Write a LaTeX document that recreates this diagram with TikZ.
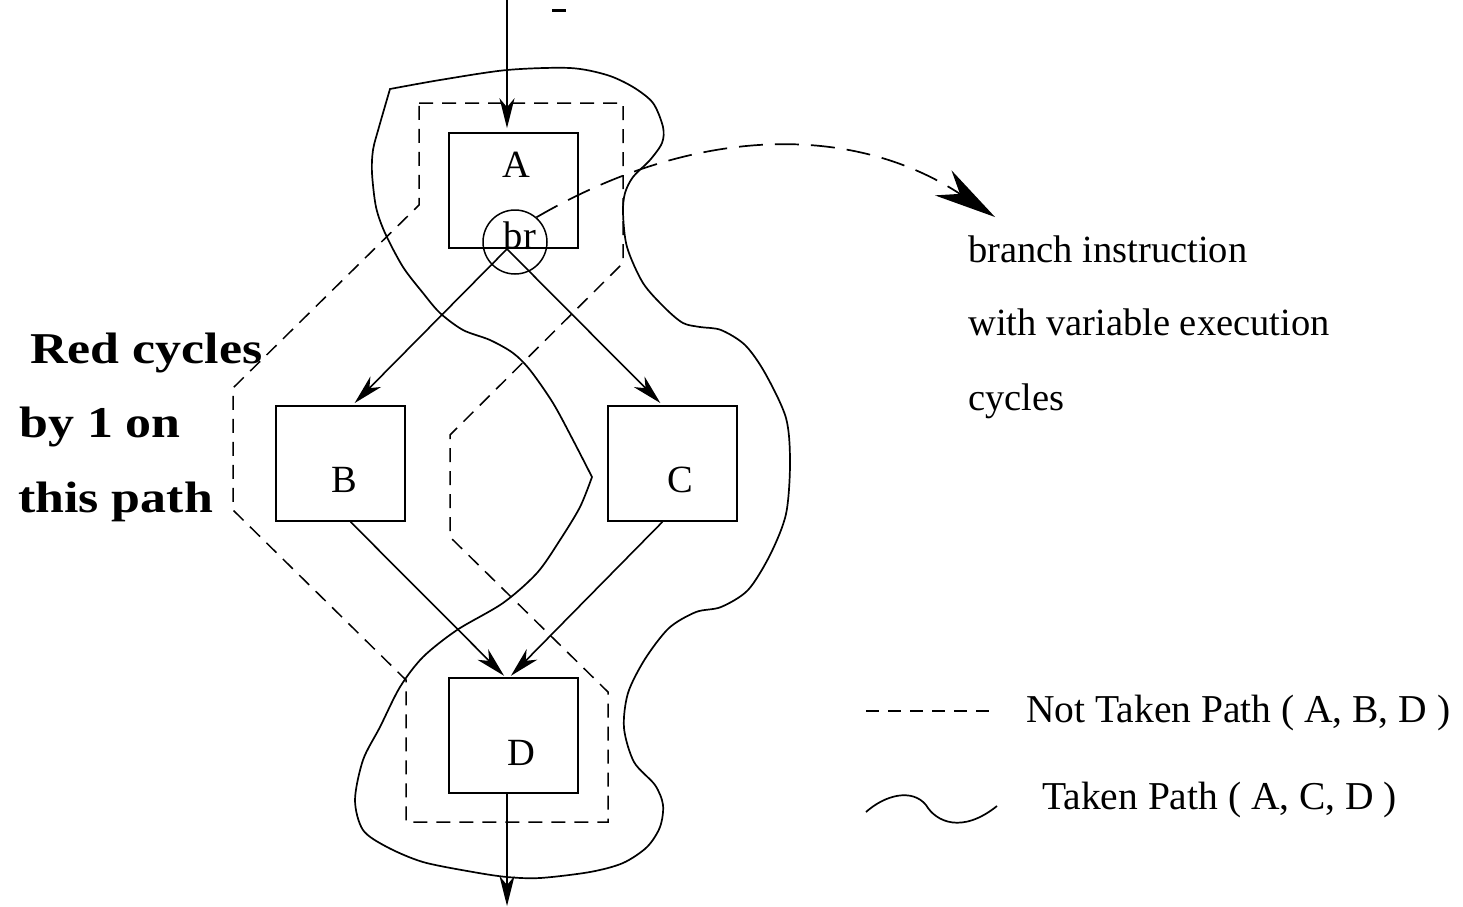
\documentclass[tikz,border=0pt]{standalone}
\usepackage{fontspec}
\setmainfont{Liberation Serif}
\newfontfamily\widebold[FakeStretch=1.18]{Liberation Serif Bold}
\usetikzlibrary{arrows.meta}
\newcommand{\txtfont}{\fontsize{38.5}{40}\selectfont}
\newcommand{\legfont}{\fontsize{39.5}{41}\selectfont}
\newcommand{\bigbold}{\widebold\fontsize{44}{46}\selectfont}
\begin{document}
\begin{tikzpicture}[x=1pt,y=-1pt,
  blockbox/.style={draw, line width=1.6pt, minimum width=129pt, minimum height=115pt, inner sep=0pt},
  lbl/.style={font=\txtfont, inner sep=0pt, anchor=base},
  txt/.style={font=\txtfont, inner sep=0pt, anchor=base west},
  legtxt/.style={font=\legfont, inner sep=0pt, anchor=base west},
  boldtxt/.style={font=\bigbold, inner sep=0pt, anchor=base west},
  flow/.style={line width=1.6pt, -{Stealth[length=30pt,width=15pt,inset=9pt]}},
  nottaken/.style={line width=1.5pt, dash pattern=on 14pt off 9pt},
  taken/.style={line width=1.7pt},
  pointer/.style={line width=1.7pt, dash pattern=on 24pt off 12pt,
                  -{Stealth[length=62pt,width=30pt,inset=20pt]}}]
\useasboundingbox (0,0) rectangle (1463,906);

% basic blocks
\node[blockbox] (A) at (513.5,190.5) {};
\node[blockbox] (B) at (340.5,463.5) {};
\node[blockbox] (C) at (672.5,463.5) {};
\node[blockbox] (D) at (513.5,735.5) {};
\node[draw, circle, minimum size=64pt, inner sep=0pt, line width=1.5pt] (br) at (515,242) {};

\node[lbl] (lA) at (516,177) {A};
\node[lbl] (lbr) at (520,248) {br};
\node[lbl] (lB) at (344,492) {B};
\node[lbl] (lC) at (680,492) {C};
\node[lbl] (lD) at (521,765) {D};

% control flow edges
\coordinate (entry) at (507,-2);
\coordinate (exit) at (507,906);
\coordinate (fork) at (507,249);
\draw[flow, shorten >=4pt] (entry) -- (entry |- A.north);
\draw[flow, shorten >=3pt] (fork) -- ([xshift=12pt]B.north);
\draw[flow, shorten >=3pt] (fork) -- ([xshift=-10pt]C.north);
\draw[flow, shorten >=2pt] ([xshift=10pt]B.south) -- ([xshift=-8pt]D.north);
\draw[flow, shorten >=2pt] ([xshift=-10pt]C.south) -- ([xshift=-4pt]D.north);
\draw[flow] (D.south -| exit) -- (exit);
\draw[line width=3pt] (552,10) -- (566,10);

% not taken path (A, B, D)
\draw[nottaken] (419,103) -- (623,103) -- (623,263) -- (450,435) -- (450,537)
  -- (608,692) -- (608,822) -- (406,822) -- (406,680) -- (233,510)
  -- (233,388) -- (419,205) -- cycle;

% taken path (A, C, D)
\draw[taken] plot[smooth, tension=0.5] coordinates {(592,477) (573,440) (553,403)
  (530,370) (513,353) (490,340) (463,330) (440,313) (423,293) (403,267) (385,233)
  (376,207) (372,173) (373,150) (379,127) (390,89)}
  -- plot[smooth, tension=0.5] coordinates {(390,89) (440,80) (507,70) (570,68)
  (607,75) (633,87) (653,103) (663,127) (662,143) (650,160) (633,177) (625,193)
  (623,213) (627,247) (643,283) (665,308) (683,323) (700,327) (721,330) (745,345)
  (765,373) (786,418) (790,463) (786,514) (770,555) (748,590) (721,607) (696,612)
  (669,628) (645,659) (628,693) (624,728) (634,762) (655,785) (663,805) (660,827)
  (647,847) (623,863) (590,872) (540,878) (507,877) (473,872) (423,862) (387,847)
  (363,830) (355,800) (363,760) (380,727) (400,687) (423,657) (457,630) (503,603)
  (537,573) (560,540) (580,507) (592,477)} -- cycle;

% annotation of the branch
\coordinate (note) at (995,217);
\draw[pointer] (br.49) .. controls (697,124) and (854,124) .. (note);
\node[txt] (n1) at (968,262) {branch instruction};
\node[txt] (n2) at (968,335) {with variable execution};
\node[txt] (n3) at (968,410) {cycles};

\node[boldtxt] (r1) at (30,363) {Red cycles};
\node[boldtxt] (r2) at (19,437) {by 1 on};
\node[boldtxt] (r3) at (18,512) {this path};

% legend
\coordinate (l1a) at (866,711);
\coordinate (l1b) at (995,711);
\draw[line width=1.5pt, dash pattern=on 13pt off 9pt] (l1a) -- (l1b);
\node[legtxt] (leg1) at (1026,722) {Not Taken Path ( A, B, D )};
\coordinate (l2a) at (866,812);
\coordinate (l2b) at (997,806);
\draw[taken] (l2a) .. controls (885,795) and (912,788) .. (926,805)
  .. controls (936,822) and (962,834) .. (l2b);
\node[legtxt] (leg2) at (1042,809) {Taken Path ( A, C, D )};
\end{tikzpicture}
\end{document}
